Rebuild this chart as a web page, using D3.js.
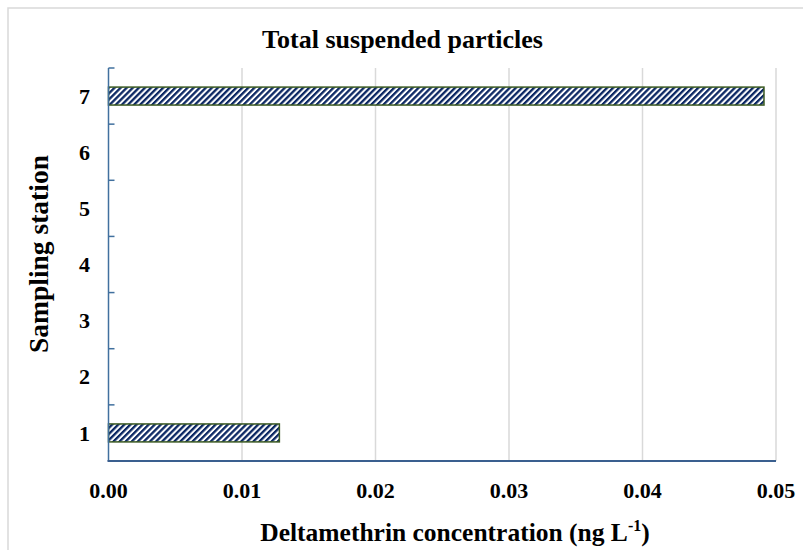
<!DOCTYPE html>
<html><head><meta charset="utf-8">
<script src="https://cdn.jsdelivr.net/npm/d3@7/dist/d3.min.js"></script>
<style>body{margin:0;background:#fff}svg{display:block}text{font-family:"Liberation Serif","Times New Roman",serif;font-weight:bold;fill:#000}</style>
</head><body>
<svg id="c" width="803" height="550"></svg>
<script>
const stations = ["1","2","3","4","5","6","7"];
const values = [0.0128, 0, 0, 0, 0, 0, 0.0491];
const xTicks = [0, 0.01, 0.02, 0.03, 0.04, 0.05];
const title = "Total suspended particles";
const yTitle = "Sampling station";

const svg = d3.select("#c");
const pL = 108.5, pR = 776, pT = 68, pB = 461;

svg.append("rect").attr("x",8).attr("y",8).attr("width",820).attr("height",580)
  .attr("fill","#fff").attr("stroke","#d9d9d9").attr("stroke-width",1.5);

const defs = svg.append("defs");
const pat = defs.append("pattern").attr("id","hatch").attr("patternUnits","userSpaceOnUse")
  .attr("width",4.3).attr("height",4.3).attr("patternTransform","rotate(45)");
pat.append("rect").attr("width",4.3).attr("height",4.3).attr("fill","#fff");
pat.append("rect").attr("x",0).attr("width",2.3).attr("height",4.3).attr("fill","#0b2763");

const x = d3.scaleLinear().domain([0,0.05]).range([pL,pR]);
const y = d3.scaleBand().domain(stations.slice().reverse()).range([pT,pB]).paddingInner(0.68).paddingOuter(0.34);

// gridlines
svg.append("g").selectAll("line").data(xTicks.slice(1)).join("line")
  .attr("x1",d=>x(d)).attr("x2",d=>x(d)).attr("y1",pT).attr("y2",pB)
  .attr("stroke","#d9d9d9").attr("stroke-width",1.5);

// bars
svg.append("g").selectAll("rect").data(stations.map((s,i)=>({s,v:values[i]})).filter(d=>d.v>0)).join("rect")
  .attr("x",x(0)).attr("y",d=>y(d.s)).attr("width",d=>x(d.v)-x(0)).attr("height",y.bandwidth())
  .attr("fill","url(#hatch)").attr("stroke","#3b5a22").attr("stroke-width",1.5);

// y axis
const step = (pB-pT)/stations.length;
svg.append("line").attr("x1",pL).attr("x2",pL).attr("y1",pT).attr("y2",pB)
  .attr("stroke","#41709e").attr("stroke-width",1.5);
svg.append("g").selectAll("line").data(d3.range(stations.length)).join("line")
  .attr("x1",pL).attr("x2",pL+6).attr("y1",i=>pT+i*step).attr("y2",i=>pT+i*step)
  .attr("stroke","#41709e").attr("stroke-width",1.5);
svg.append("g").selectAll("text").data(stations).join("text")
  .attr("x",90).attr("y",d=>y(d)+y.bandwidth()/2).attr("dy","0.35em")
  .attr("text-anchor","end").attr("font-size",22).text(d=>d);

// x axis
svg.append("line").attr("x1",pL-1).attr("x2",pR).attr("y1",pB).attr("y2",pB)
  .attr("stroke","#3a5f8f").attr("stroke-width",2);
svg.append("g").selectAll("text").data(xTicks).join("text")
  .attr("x",d=>x(d)).attr("y",498).attr("text-anchor","middle").attr("font-size",22)
  .text(d=>d3.format(".2f")(d));

// titles
svg.append("text").attr("x",402.5).attr("y",48).attr("text-anchor","middle").attr("font-size",26).text(title);
svg.append("text").attr("transform","translate(48,254) rotate(-90)").attr("text-anchor","middle")
  .attr("font-size",27.5).text(yTitle);
const xt = svg.append("text").attr("x",455).attr("y",541).attr("text-anchor","middle").attr("font-size",25.5);
xt.append("tspan").text("Deltamethrin concentration (ng L");
xt.append("tspan").attr("font-size",16).attr("dy",-10).text("-1");
xt.append("tspan").attr("dy",10).text(")");
</script>
</body></html>
